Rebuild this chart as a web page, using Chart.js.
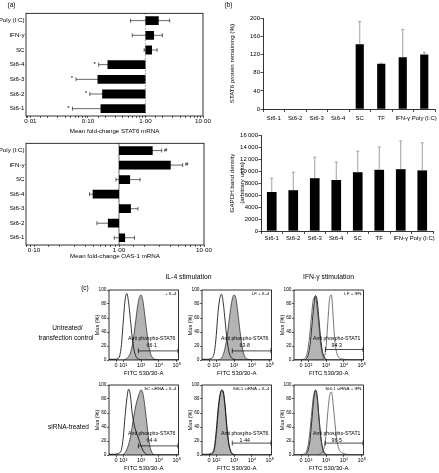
<!DOCTYPE html>
<html>
<head>
<meta charset="utf-8">
<script src="https://cdn.jsdelivr.net/npm/chart.js@4.4.0/dist/chart.umd.min.js"></script>
<style>
body { margin: 0; background: #fff; }
#fig { position: relative; width: 439px; height: 473px; overflow: hidden; font-family: "Liberation Sans", Arial, sans-serif; color: #000; }
canvas { position: absolute; }
.t { position: absolute; white-space: nowrap; font-size: 6.5px; line-height: 1; transform: translate(-50%, -50%); filter: grayscale(100%); }
</style>
</head>
<body>
<div id="fig">
  <div class="t" style="left:11.5px;top:5px">(a)</div>
  <div class="t" style="left:228.5px;top:5px">(b)</div>
  <div class="t" style="left:85px;top:288px">(c)</div>
  <div class="t" style="left:188.5px;top:276.7px;font-size:6.8px">IL-4 stimulation</div>
  <div class="t" style="left:328.5px;top:276.7px;font-size:6.8px">IFN-γ stimulation</div>
  <div class="t" style="left:67.5px;top:327.5px">Untreated/</div>
  <div class="t" style="left:66px;top:338.3px">transfection control</div>
  <div class="t" style="left:68.5px;top:426.7px">siRNA-treated</div>
</div>
<script>
// (a) qRT-PCR fold change, rows listed top to bottom
const foldRows = ['Poly (I:C)', 'IFN-γ', 'SC', 'St6-4', 'St6-3', 'St6-2', 'St6-1'];
const stat6Fold = [1.70, 1.41, 1.30, 0.219, 0.147, 0.177, 0.166];
const stat6Lo = [0.55, 0.59, 0.95, 0.154, 0.062, 0.108, 0.054];
const stat6Hi = [2.64, 1.97, 1.59, 0.28, 0.23, 0.25, 0.28];
const stat6Mark = ['', '', '', '*', '*', '*', '*'];
const oasFold = [2.49, 4.06, 1.35, 0.49, 1.38, 0.74, 1.18];
const oasLo = [1.9, 3.0, 0.92, 0.45, 1.1, 0.55, 0.88];
const oasHi = [3.18, 5.62, 1.77, 0.53, 1.67, 0.95, 1.52];
const oasMark = ['#', '#', '', '', '', '', ''];

// (b) western blot densitometry
const blotCats = ['St6-1', 'St6-2', 'St6-3', 'St6-4', 'SC', 'TF', 'IFN-γ', 'Poly (I:C)'];
const stat6Protein = [null, null, null, null, 143, 100, 114, 120];
const stat6ProteinTop = [null, null, null, null, 193, 101, 175, 125];
const gapdhDensity = [6500, 6800, 8800, 8500, 9800, 10200, 10300, 10100];
const gapdhTop = [8800, 9800, 12300, 11500, 13300, 14000, 15000, 14700];

// (c) flow histograms, x in decades of FITC 530/30-A
const histX = [1.2, 1.5, 1.7, 1.8, 1.9, 2.0, 2.1, 2.2, 2.3, 2.4, 2.5, 2.6, 2.7, 2.8, 2.9, 3.0, 3.1, 3.2, 3.3, 3.4, 3.5, 3.6, 3.7, 3.8, 4.0, 4.5, 5.1];
const histTicks = [1.6, 2, 3, 4, 5];
const histTickLabels = ['0', '10²', '10³', '10⁴', '10⁵'];
const il4Open = [1, 1, 2, 6, 22, 55, 85, 95, 82, 58, 33, 15, 6, 2, 1, 0, 0, 0, 0, 0, 0, 0, 0, 0, 0, 0, 0];
const il4Fill = [0, 0, 0, 0, 0, 0, 1, 2, 5, 10, 20, 36, 56, 76, 89, 93, 85, 66, 45, 26, 12, 5, 2, 1, 0, 0, 0];
const lfIl4Open = [1, 1, 2, 4, 12, 35, 68, 88, 94, 80, 55, 30, 13, 5, 2, 1, 0, 0, 0, 0, 0, 0, 0, 0, 0, 0, 0];
const lfIl4Fill = [0, 0, 0, 0, 0, 0, 0, 1, 3, 8, 18, 32, 52, 72, 87, 93, 88, 70, 48, 28, 13, 5, 2, 1, 0, 0, 0];
const lfIfnCtrl = [0, 0, 1, 2, 6, 18, 40, 68, 88, 90, 75, 48, 22, 8, 3, 1, 0, 0, 0, 0, 0, 0, 0, 0, 0, 0, 0];
const lfIfnFill = [0, 0, 0, 0, 2, 8, 22, 48, 75, 92, 85, 58, 30, 12, 4, 1, 0, 0, 0, 0, 0, 0, 0, 0, 0, 0, 0];
const lfIfnOpen = [0, 0, 0, 0, 0, 0, 0, 0, 0, 0, 0, 0, 0, 1, 4, 18, 55, 88, 93, 60, 25, 10, 4, 2, 1, 0, 0];
const scIl4Open = [1, 1, 2, 3, 8, 25, 55, 80, 94, 85, 60, 45, 35, 28, 20, 13, 7, 3, 1, 0, 0, 0, 0, 0, 0, 0, 0];
const scIl4Fill = [0, 0, 0, 0, 0, 1, 3, 8, 15, 25, 40, 56, 70, 80, 88, 93, 88, 72, 50, 28, 12, 4, 1, 0, 0, 0, 0];
const st6Il4Open = [1, 1, 2, 4, 12, 35, 65, 85, 93, 90, 70, 40, 18, 7, 2, 1, 0, 0, 0, 0, 0, 0, 0, 0, 0, 0, 0];
const st6Il4Fill = [0, 0, 1, 2, 8, 28, 58, 82, 92, 88, 66, 36, 15, 5, 1, 0, 0, 0, 0, 0, 0, 0, 0, 0, 0, 0, 0];
const st6IfnCtrl = [0, 0, 1, 2, 5, 15, 35, 62, 85, 92, 80, 52, 25, 10, 4, 1, 0, 0, 0, 0, 0, 0, 0, 0, 0, 0, 0];
const st6IfnFill = [0, 0, 0, 0, 2, 8, 22, 50, 78, 93, 85, 55, 28, 10, 3, 1, 0, 0, 0, 0, 0, 0, 0, 0, 0, 0, 0];
const st6IfnOpen = [0, 0, 0, 0, 0, 0, 0, 0, 0, 0, 0, 1, 2, 5, 12, 30, 62, 85, 90, 72, 45, 22, 10, 5, 2, 0, 0];
const sampleLabels = ['+ IL-4', 'LF + IL-4', 'LF + IFN', 'SC siRNA + IL-4', 'St6-1 siRNA + IL-4', 'St6-1 siRNA + IFN'];
const gateTargets = ['Anti phospho-STAT6', 'Anti phospho-STAT6', 'Anti phospho-STAT1', 'Anti phospho-STAT6', 'Anti phospho-STAT6', 'Anti phospho-STAT1'];
const gatePercent = ['66·1', '63·8', '94·3', '64·4', '1·44', '96·5'];
const gateStart = [2.85, 2.9, 2.96, 2.85, 2.9, 2.96];
const gateLevel = [13, 13, 15, 13, 17, 17];

const FONT = '"Liberation Sans", Arial, sans-serif';
Chart.defaults.font.family = FONT;
Chart.defaults.font.size = 6.2;
Chart.defaults.color = '#000';
Chart.defaults.animation = false;
Chart.defaults.responsive = false;
Chart.defaults.plugins.legend.display = false;
Chart.defaults.plugins.tooltip.enabled = false;

const fig = document.getElementById('fig');

function addCanvas(x, y, w, h) {
    const c = document.createElement('canvas');
    c.width = w; c.height = h;
    c.style.left = x + 'px'; c.style.top = y + 'px';
    c.style.width = w + 'px'; c.style.height = h + 'px';
    fig.appendChild(c);
    return c;
}

const fixW = (w) => (s) => { s.width = w; s.paddingTop = 0; s.paddingBottom = 0; };
const fixH = (h) => (s) => { s.height = h; s.paddingLeft = 0; s.paddingRight = 0; };

const boxFrame = {
    id: 'boxFrame',
    afterDraw(chart) {
        const {ctx, chartArea: a} = chart;
        ctx.save();
        ctx.strokeStyle = '#000';
        ctx.lineWidth = 0.8;
        ctx.strokeRect(a.left, a.top, a.right - a.left, a.bottom - a.top);
        ctx.restore();
    }
};

function foldLabel(v) {
    const l = Math.log10(v);
    if (Math.abs(l - Math.round(l)) > 1e-6) return '';
    return v.toFixed(2).replace('.', '·');
}

function foldChart(canvas, values, lo, hi, marks, markRight, min, pad, xHeight, title, titlePad, dashed) {
    const refLine = {
        id: 'refLine',
        beforeDatasetsDraw(chart) {
            const {ctx, chartArea: a, scales: {x}} = chart;
            const px = x.getPixelForValue(1);
            ctx.save();
            ctx.strokeStyle = '#000';
            ctx.lineWidth = 0.6;
            if (dashed) ctx.setLineDash([1, 2]);
            ctx.beginPath(); ctx.moveTo(px, a.top); ctx.lineTo(px, a.bottom); ctx.stroke();
            ctx.restore();
        }
    };
    const errBars = {
        id: 'errBars',
        afterDatasetsDraw(chart) {
            const {ctx, scales: {x, y}} = chart;
            ctx.save();
            ctx.strokeStyle = '#000';
            ctx.fillStyle = '#000';
            ctx.lineWidth = 0.6;
            ctx.font = '6px ' + FONT;
            ctx.textBaseline = 'middle';
            lo.forEach((l, i) => {
                const py = y.getPixelForValue(i);
                const x1 = x.getPixelForValue(l), x2 = x.getPixelForValue(hi[i]);
                ctx.beginPath();
                ctx.moveTo(x1, py); ctx.lineTo(x2, py);
                ctx.moveTo(x1, py - 2); ctx.lineTo(x1, py + 2);
                ctx.moveTo(x2, py - 2); ctx.lineTo(x2, py + 2);
                ctx.stroke();
                if (marks[i]) {
                    ctx.textAlign = 'center';
                    ctx.fillText(marks[i], markRight ? x2 + 4 : x1 - 4, py - 0.5);
                }
            });
            ctx.restore();
        }
    };
    return new Chart(canvas, {
        type: 'bar',
        data: {
            labels: foldRows,
            datasets: [{
                data: values.map((v) => [Math.min(v, 1), Math.max(v, 1)]),
                backgroundColor: '#000',
                barPercentage: 0.6,
                categoryPercentage: 1
            }]
        },
        options: {
            indexAxis: 'y',
            layout: {padding: pad},
            scales: {
                x: {
                    type: 'logarithmic', min: min, max: 10,
                    afterFit: fixH(xHeight),
                    grid: {drawOnChartArea: false, tickLength: 2, color: '#000', tickColor: '#000', lineWidth: 0.6},
                    border: {display: false},
                    ticks: {autoSkip: false, maxRotation: 0, padding: 0, callback: (v) => foldLabel(v)},
                    title: {display: true, text: title, padding: {top: 0, bottom: titlePad}, font: {size: 6.2}}
                },
                y: {
                    afterFit: fixW(26),
                    grid: {display: false, drawTicks: false, tickLength: 0},
                    border: {display: false},
                    ticks: {padding: 1.5, autoSkip: false}
                }
            }
        },
        plugins: [refLine, errBars, boxFrame]
    });
}

foldChart(addCanvas(0, 0, 214, 136), stat6Fold, stat6Lo, stat6Hi, stat6Mark, false, 0.0084,
    {top: 13.3, right: 11, bottom: 0, left: 0}, 20, 'Mean fold-change STAT6 mRNA', 1, true);
foldChart(addCanvas(0, 136, 214, 127), oasFold, oasLo, oasHi, oasMark, true, 0.0805,
    {top: 7.3, right: 10, bottom: 0, left: 0}, 18, 'Mean fold-change OAS-1 mRNA', 2.8, false);

function blotChart(canvas, values, tops, max, step, pad, yWidth, xHeight, title, titlePad, lineHeight, barPct, labelPad) {
    const errBars = {
        id: 'vErr',
        afterDatasetsDraw(chart) {
            const {ctx, scales: {x, y}} = chart;
            ctx.save();
            ctx.strokeStyle = '#8a8a8a';
            ctx.lineWidth = 0.8;
            values.forEach((v, i) => {
                if (v === null) return;
                const px = x.getPixelForValue(i);
                const y1 = y.getPixelForValue(v), y2 = y.getPixelForValue(tops[i]);
                ctx.beginPath();
                ctx.moveTo(px, y1); ctx.lineTo(px, y2);
                ctx.moveTo(px - 1.5, y2); ctx.lineTo(px + 1.5, y2);
                ctx.stroke();
            });
            ctx.restore();
        }
    };
    return new Chart(canvas, {
        type: 'bar',
        data: {
            labels: blotCats,
            datasets: [{data: values, backgroundColor: '#000', barPercentage: barPct, categoryPercentage: 1}]
        },
        options: {
            layout: {padding: pad},
            scales: {
                x: {
                    afterFit: fixH(xHeight),
                    grid: {drawOnChartArea: false, tickLength: 3, color: '#000', lineWidth: 0.7},
                    border: {color: '#000', width: 0.8},
                    ticks: {autoSkip: false, maxRotation: 0, minRotation: 0, padding: labelPad, font: {size: 6}}
                },
                y: {
                    min: 0, max: max,
                    afterFit: fixW(yWidth),
                    grid: {drawOnChartArea: false, tickLength: 2.5, color: '#000', lineWidth: 0.7},
                    border: {color: '#000', width: 0.8},
                    ticks: {stepSize: step, padding: 0.5, font: {size: 6},
                        callback: (v) => v >= 10000 ? Math.floor(v / 1000) + '\u2009000' : String(v)},
                    title: {display: true, text: title, padding: {top: titlePad, bottom: 0}, font: {size: 6.2, lineHeight: lineHeight}}
                }
            }
        },
        plugins: [errBars]
    });
}

blotChart(addCanvas(222, 0, 217, 126), stat6Protein, stat6ProteinTop, 200, 20,
    {top: 18.3, right: 4, bottom: 0, left: 0}, 41, 17, 'STAT6 protein remaining (%)', 6.3, 1.2, 0.38, 3);
blotChart(addCanvas(220, 126, 219, 122), gapdhDensity, gapdhTop, 16000, 2000,
    {top: 9, right: 6, bottom: 0, left: 0}, 41, 17, ['GAPDH band density', '(arbitrary units)'], 6.8, 1.65, 0.45, 0.5);

const histCurves = [
    [{y: il4Open, line: '#000'}, {y: il4Fill, line: '#333', fill: '#b4b4b4'}],
    [{y: lfIl4Open, line: '#000'}, {y: lfIl4Fill, line: '#333', fill: '#b4b4b4'}],
    [{y: lfIfnOpen, line: '#555'}, {y: lfIfnCtrl, line: '#444'}, {y: lfIfnFill, line: '#000', fill: '#b4b4b4'}],
    [{y: scIl4Open, line: '#000'}, {y: scIl4Fill, line: '#333', fill: '#b4b4b4'}],
    [{y: st6Il4Open, line: '#000'}, {y: st6Il4Fill, line: '#333', fill: '#b4b4b4'}],
    [{y: st6IfnOpen, line: '#555'}, {y: st6IfnCtrl, line: '#444'}, {y: st6IfnFill, line: '#000', fill: '#b4b4b4'}]
];

const gateMarks = {
    id: 'gateMarks',
    afterDatasetsDraw(chart, args, o) {
        const {ctx, chartArea: a, scales: {x, y}} = chart;
        const gy = y.getPixelForValue(o.level);
        const x1 = x.getPixelForValue(o.from), x2 = x.getPixelForValue(x.max) - 0.5;
        ctx.save();
        ctx.strokeStyle = '#000';
        ctx.fillStyle = '#000';
        ctx.lineWidth = 0.7;
        ctx.beginPath();
        ctx.moveTo(x1, gy); ctx.lineTo(x2, gy);
        ctx.moveTo(x1, gy - 2.5); ctx.lineTo(x1, gy + 2.5);
        ctx.moveTo(x2, gy - 2.5); ctx.lineTo(x2, gy + 2.5);
        ctx.stroke();
        ctx.textAlign = 'center';
        ctx.textBaseline = 'middle';
        ctx.font = '5.2px ' + FONT;
        ctx.fillText(o.target, x.getPixelForValue(3.6), y.getPixelForValue(30));
        ctx.fillText(o.pct, x.getPixelForValue(3.6), y.getPixelForValue(21));
        ctx.textAlign = 'right';
        ctx.font = '4.4px ' + FONT;
        ctx.fillText(o.sample, a.right - 2, a.top + 3.5);
        ctx.restore();
    }
};

function histChart(k, left, top) {
    const canvas = addCanvas(left - 16, top - 4, 90, 92);
    return new Chart(canvas, {
        type: 'line',
        data: {
            datasets: histCurves[k].map((c) => ({
                data: histX.map((x, i) => ({x: x, y: c.y[i]})),
                borderColor: c.line,
                backgroundColor: c.fill || 'transparent',
                fill: c.fill ? 'origin' : false,
                borderWidth: 0.8,
                pointRadius: 0,
                cubicInterpolationMode: 'monotone'
            }))
        },
        options: {
            layout: {padding: {top: 4, right: 4.5, bottom: 0, left: 0}},
            scales: {
                x: {
                    type: 'linear', min: 1.2, max: 5.1,
                    afterFit: fixH(18),
                    afterBuildTicks: (s) => { s.ticks = histTicks.map((v) => ({value: v})); },
                    grid: {drawOnChartArea: false, tickLength: 2, color: '#000', lineWidth: 0.6},
                    border: {display: false},
                    ticks: {autoSkip: false, maxRotation: 0, padding: 0, font: {size: 5.5},
                        callback: (v, i) => histTickLabels[i]},
                    title: {display: true, text: 'FITC 530/30-A', padding: {top: 0, bottom: 1.4}, font: {size: 6}}
                },
                y: {
                    min: 0, max: 100,
                    afterFit: fixW(16),
                    grid: {drawOnChartArea: false, tickLength: 2, color: '#000', lineWidth: 0.6},
                    border: {display: false},
                    ticks: {stepSize: 20, padding: 0.5, font: {size: 4.8}},
                    title: {display: true, text: 'Max (%)', padding: {top: 1, bottom: 0}, font: {size: 5.5}}
                }
            },
            plugins: {
                gateMarks: {level: gateLevel[k], from: gateStart[k], target: gateTargets[k], pct: gatePercent[k], sample: sampleLabels[k]}
            }
        },
        plugins: [gateMarks, boxFrame]
    });
}

const histLefts = [109, 202, 294];
const histTops = [290, 385];
histTops.forEach((t, r) => histLefts.forEach((l, c) => histChart(r * 3 + c, l, t)));
</script>
</body>
</html>
